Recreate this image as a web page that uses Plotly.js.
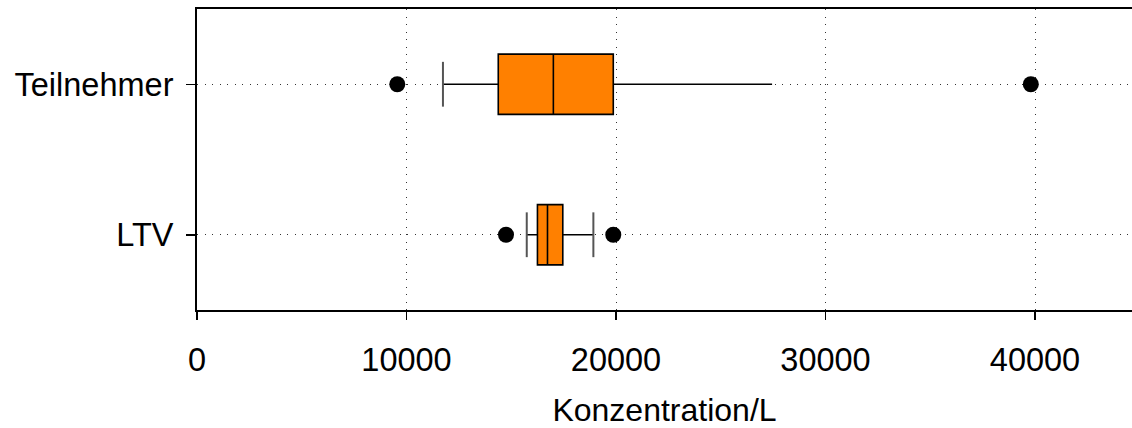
<!DOCTYPE html>
<html>
<head>
<meta charset="utf-8">
<script src="https://cdn.plot.ly/plotly-3.0.1.min.js"></script>
<style>
  html, body { margin: 0; padding: 0; background: #fff; }
  #chart { width: 1132px; height: 428px; }
</style>
</head>
<body>
<div id="chart"></div>
<script>
// Box statistics per group (concentration per litre)
const groups      = ['LTV', 'Teilnehmer'];
const lowerFence  = [15740, 11740];
const q1          = [16250, 14380];
const median      = [16730, 17010];
const q3          = [17460, 19870];
const upperFence  = [18920, 27450];
const upperCap    = [true, false];

// Points beyond the whiskers
const outlierGroup = ['LTV', 'LTV', 'Teilnehmer', 'Teilnehmer'];
const outlierValue = [14750, 19870, 9560, 39800];

const FONT = 'Liberation Sans, Arial, sans-serif';
const FS = 32.5;
const TITLE_FS = 32;
const ORANGE = '#ff8000';

const traces = [];

groups.forEach((g, i) => {
  traces.push({
    type: 'box',
    orientation: 'h',
    y: [g],
    q1: [q1[i]],
    median: [median[i]],
    q3: [q3[i]],
    lowerfence: [lowerFence[i]],
    upperfence: [upperFence[i]],
    width: 0.4,
    fillcolor: ORANGE,
    line: { color: '#000', width: 1.6 },
    whiskerwidth: 0,
    boxpoints: false,
    hoverinfo: 'skip',
    showlegend: false
  });
});

// Whisker end caps
const capX = [], capY = [];
groups.forEach((g, i) => {
  capX.push(lowerFence[i]); capY.push(g);
  if (upperCap[i]) { capX.push(upperFence[i]); capY.push(g); }
});
traces.push({
  type: 'scatter',
  mode: 'markers',
  x: capX,
  y: capY,
  marker: { symbol: 'line-ns', size: 32, line: { color: '#555', width: 2 } },
  hoverinfo: 'skip',
  showlegend: false
});

traces.push({
  type: 'scatter',
  mode: 'markers',
  x: outlierValue,
  y: outlierGroup,
  marker: { symbol: 'circle', size: 16, color: '#000' },
  hoverinfo: 'skip',
  showlegend: false
});

const layout = {
  width: 1132,
  height: 428,
  margin: { l: 197, r: 0, t: 9, b: 118 },
  paper_bgcolor: '#fff',
  plot_bgcolor: '#fff',
  font: { family: FONT, size: FS, color: '#000' },
  xaxis: {
    range: [0, 44630],
    tickvals: [0, 10000, 20000, 30000, 40000],
    ticktext: ['0', '10000', '20000', '30000', '40000'],
    ticks: 'outside',
    ticklen: 8,
    tickwidth: 1.5,
    tickcolor: '#000',
    showline: true,
    linecolor: '#000',
    linewidth: 2,
    mirror: true,
    showgrid: true,
    gridcolor: '#333',
    gridwidth: 1,
    griddash: '1px,6.5px',
    zeroline: false,
    tickfont: { size: FS },
    ticklabelstandoff: 12,
    title: { text: 'Konzentration/L', font: { size: TITLE_FS }, standoff: 24 }
  },
  yaxis: {
    type: 'category',
    categoryorder: 'array',
    categoryarray: groups,
    range: [-0.5, 1.5],
    ticks: 'outside',
    ticklen: 9,
    tickwidth: 1.5,
    tickcolor: '#000',
    showline: true,
    linecolor: '#000',
    linewidth: 2,
    showgrid: true,
    gridcolor: '#333',
    gridwidth: 1,
    griddash: '1px,6.5px',
    zeroline: false,
    tickfont: { size: FS },
    ticklabelstandoff: 6
  }
};

Plotly.newPlot('chart', traces, layout, { staticPlot: true, displayModeBar: false });
</script>
</body>
</html>
